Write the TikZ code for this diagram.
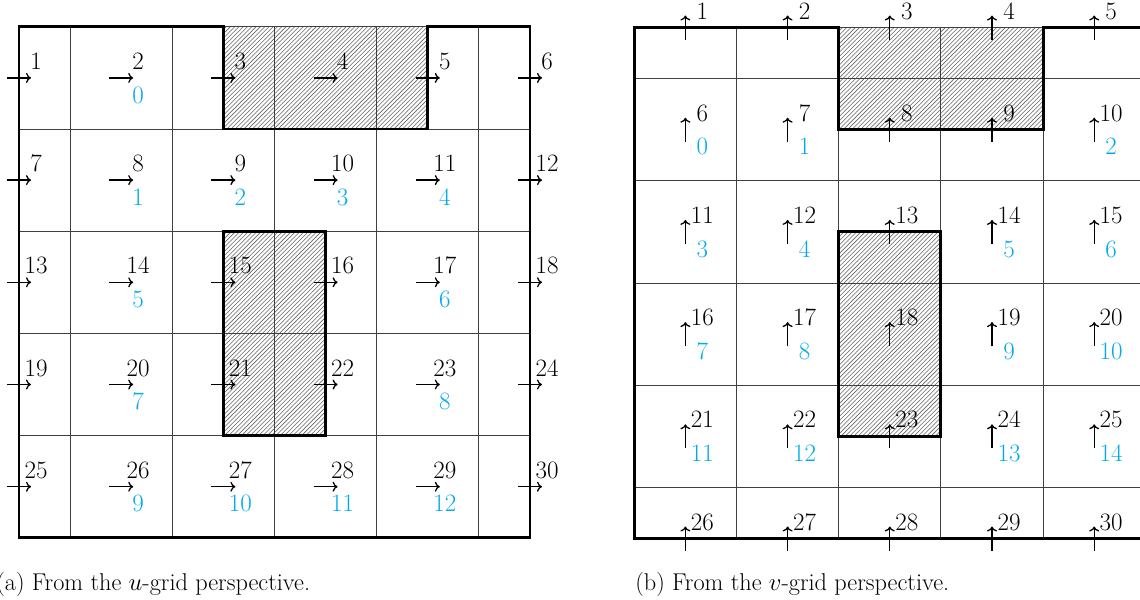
\documentclass[tikz,border=0pt]{standalone}
\usetikzlibrary{patterns,arrows.meta}
\definecolor{idxblue}{RGB}{0,170,235}
\begin{document}
\begin{tikzpicture}[x=0.7pt,y=-0.7pt,
  thin grid/.style={line width=0.6pt, black!75},
  wall/.style={line width=2pt, black, line join=miter},
  solid region/.style={pattern=north east lines, pattern color=black!60},
  flux/.style={line width=0.9pt, -{To[length=3.5pt,width=7pt]}},
  gid/.style={anchor=base, inner sep=0pt, font=\fontsize{17.5}{17.5}\selectfont},
  lid/.style={gid, text=idxblue},
  subcaption/.style={anchor=base west, inner sep=0pt, font=\fontsize{17}{20}\selectfont}]
\useasboundingbox (0,0) rectangle (1140,600);

% ---------- (a) u-grid ----------
\begin{scope}[shift={(19,26.8)}, x=71.54pt, y=-71.54pt]
  \fill[solid region] (2,0) rectangle (4,1);
  \fill[solid region] (2,2) rectangle (3,4);
  \draw[thin grid] (0,0) rectangle (5,5);
  \foreach \k in {0.5,1.5,2.5,3.5,4.5} \draw[thin grid] (\k,0) -- (\k,5);
  \foreach \j in {1,...,4} \draw[thin grid] (0,\j) -- (5,\j);
  \draw[wall] (0,0) -- (2,0) -- (2,1) -- (4,1) -- (4,0) -- (5,0) -- (5,5) -- (0,5) -- cycle;
  \draw[wall] (2,2) rectangle (3,4);
  \foreach \j in {0,...,4} \foreach \k in {0,...,5} {
    \pgfmathtruncatemacro\n{6*\j+\k+1}
    \coordinate (u\n) at (\k,\j+0.5);
    \draw[flux] ([xshift=-8.4pt]u\n) -- ([xshift=8.4pt]u\n);
    \node[gid] (ul\n) at ([xshift=11.9pt,yshift=5.95pt]u\n) {\n};
  }
  \foreach \n/\m in {2/0,8/1,9/2,10/3,11/4,14/5,17/6,20/7,23/8,26/9,27/10,28/11,29/12}
    \node[lid] (ui\n) at ([xshift=11.9pt,yshift=-17.7pt]u\n) {\m};
\end{scope}

% ---------- (b) v-grid ----------
\begin{scope}[shift={(634.3,27.5)}, x=71.54pt, y=-71.54pt]
  \fill[solid region] (2,0) rectangle (4,1);
  \fill[solid region] (2,2) rectangle (3,4);
  \draw[thin grid] (0,0) rectangle (5,5);
  \foreach \k in {1,...,4} \draw[thin grid] (\k,0) -- (\k,5);
  \foreach \j in {0.5,1.5,2.5,3.5,4.5} \draw[thin grid] (0,\j) -- (5,\j);
  \draw[wall] (2,0) -- (0,0) -- (0,5) -- (5,5) -- (5,0) -- (4,0) -- (4,1) -- (2,1) -- cycle;
  \draw[wall] (2,2) rectangle (3,4);
  \foreach \j in {0,...,5} \foreach \i in {0,...,4} {
    \pgfmathtruncatemacro\n{5*\j+\i+1}
    \coordinate (v\n) at (\i+0.5,\j);
    \draw[flux] ([yshift=-8.4pt]v\n) -- ([yshift=8.4pt]v\n);
    \node[gid] (vl\n) at ([xshift=11.9pt,yshift=5.95pt]v\n) {\n};
  }
  \foreach \n/\m in {6/0,7/1,10/2,11/3,12/4,14/5,15/6,16/7,17/8,19/9,20/10,21/11,22/12,24/13,25/14}
    \node[lid] (vi\n) at ([xshift=11.9pt,yshift=-17.7pt]v\n) {\m};
\end{scope}

\node[subcaption] (capa) at (-4,590) {(a) From the $u$-grid perspective.};
\node[subcaption] (capb) at (635,590) {(b) From the $v$-grid perspective.};
\end{tikzpicture}
\end{document}
